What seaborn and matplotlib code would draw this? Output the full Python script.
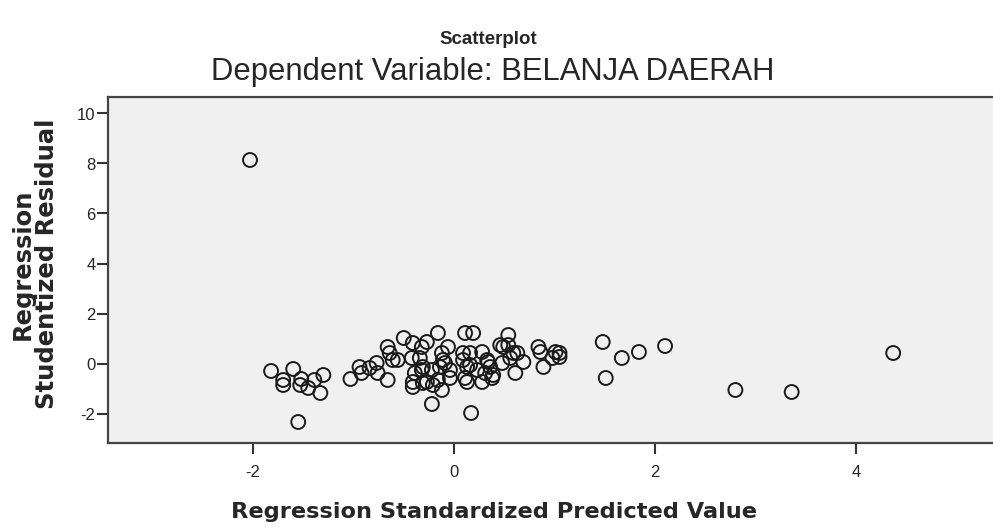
import numpy as np
import pandas as pd
import matplotlib
matplotlib.use('Agg')
import matplotlib.pyplot as plt
import seaborn as sns

# Values
pred_value = [
    -2.03, -1.82, -1.70, -1.70, -1.60, -1.52, -1.53, -1.45, -1.39, -1.30, -1.33, -1.55,
    -1.03, -0.94, -0.92, -0.84, -0.77, -0.76, -0.66, -0.66, -0.64, -0.61, -0.56, -0.50,
    -0.41, -0.32, -0.42, -0.34, -0.39, -0.41, -0.41, -0.32, -0.31, -0.22,
    -0.16, 0.11, 0.19, -0.27, -0.06, -0.12, 0.09, 0.16, 0.28, 0.33, 0.46, 0.54,
    0.54, 0.59, 0.48, 0.61, -0.31, -0.22, -0.14, -0.09, -0.04, -0.27, -0.16, -0.04,
    -0.12, 0.13, 0.11, 0.23, 0.31, 0.36, 0.28, 0.38, 0.17, -0.11, 0.09, 0.16,
    0.13, 0.34, 0.39, -0.21,
    0.49, 0.56, 0.63, 0.69, 0.84, 0.86, 0.89, 1.01, 1.05, 1.05, 0.98,
    1.48, 1.51, 1.67, 1.84, 2.10, 2.80, 3.36, 4.37,
]
stud_resid = [
    8.14, -0.30, -0.66, -0.86, -0.22, -0.62, -0.86, -0.98, -0.66, -0.46, -1.18, -2.34,
    -0.62, -0.14, -0.38, -0.18, 0.02, -0.38, -0.66, 0.66, 0.42, 0.14, 0.14, 1.02,
    0.82, 0.66, 0.22, 0.22, -0.38, -0.74, -0.94, -0.26, -0.78, -1.62,
    1.22, 1.22, 1.22, 0.86, 0.66, 0.42, 0.42, 0.42, 0.46, 0.14, 0.74, 1.14,
    0.74, 0.42, 0.02, -0.38, -0.14, -0.26, -0.14, 0.02, -0.26, -0.74, -0.66, -0.58,
    -1.06, -0.14, -0.58, -0.26, -0.38, -0.14, -0.74, -0.58, -1.98, 0.14, 0.14, -0.06,
    -0.74, 0.06, -0.46, -0.86,
    0.66, 0.22, 0.42, 0.06, 0.66, 0.46, -0.14, 0.46, 0.42, 0.26, 0.22,
    0.86, -0.58, 0.22, 0.46, 0.70, -1.06, -1.14, 0.42,
]
x_ticks = [-2, 0, 2, 4]
y_ticks = [-2, 0, 2, 4, 6, 8, 10]

df = pd.DataFrame({'pred': pred_value, 'resid': stud_resid})

sns.set_style('white')
plt.rcParams['font.family'] = ['Liberation Sans', 'DejaVu Sans']
plt.rcParams['axes.unicode_minus'] = False

fig = plt.figure(figsize=(9.93, 5.32), dpi=100)
ax = fig.add_axes([108 / 993, 1 - 443 / 532, (1003 - 108) / 993, (443 - 97) / 532])
ax.set_facecolor('#f0f0f0')

# hollow circles like the SPSS default marker
sns.scatterplot(data=df, x='pred', y='resid', ax=ax, marker='o', s=100,
                fc='none', ec='#1a1a1a', linewidth=1.4)

ax.set_xlim((108 - 454) / 100.5, (1003 - 454) / 100.5)
ax.set_ylim((363.5 - 443) / 25, (363.5 - 97) / 25)
ax.set_xticks(x_ticks)
ax.set_yticks(y_ticks)
ax.tick_params(axis='both', direction='out', length=8, width=1.5, color='#333333',
               labelsize=12, left=True, bottom=True)
ax.tick_params(axis='x', pad=8)
ax.tick_params(axis='y', pad=1)
for side in ['left', 'bottom', 'top', 'right']:
    ax.spines[side].set_color('#444444')
    ax.spines[side].set_linewidth(1.6)

ax.set_xlabel('Regression Standardized Predicted Value', fontsize=16.2,
              fontweight='bold', family='DejaVu Sans', va='center')
ax.xaxis.set_label_coords((494 - 108) / 895, (443 - 512) / 346)
ax.set_ylabel('Regression\nStudentized Residual', fontsize=17.5,
              fontweight='bold', family='DejaVu Sans', va='center', linespacing=1.0)
ax.yaxis.set_label_coords((35 - 108) / 895, (443 - 264) / 346)

fig.text(493 / 993, 1 - 72 / 532, 'Dependent Variable: BELANJA DAERAH', ha='center',
         va='center', fontsize=22.3)
fig.text(488 / 993, 1 - 40 / 532, 'Scatterplot', ha='center', va='center',
         fontsize=13.5, fontweight='bold', family=['Liberation Sans Narrow', 'Liberation Sans'])

fig.savefig('out.png', dpi=100, facecolor='white')
